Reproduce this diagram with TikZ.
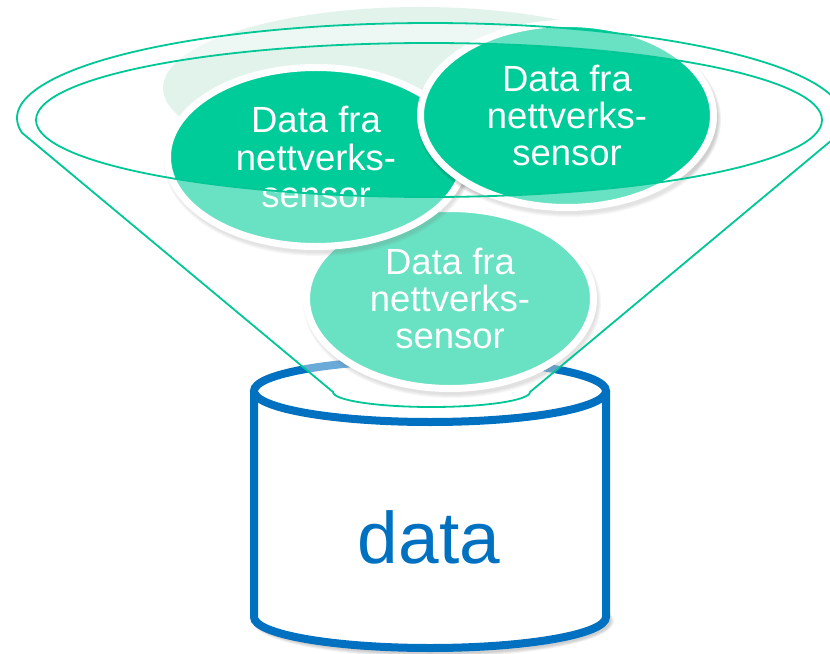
\documentclass[tikz,border=0pt]{standalone}
\usepackage{fontspec}
\setmainfont{Liberation Sans}
\usetikzlibrary{shapes.geometric}
\definecolor{mint}{HTML}{00CC99}
\definecolor{funnelGreen}{HTML}{00C795}
\definecolor{paleMint}{HTML}{E2F3EC}
\definecolor{dbBlue}{HTML}{0070C0}

% soft shadow under an ellipse: centre x, centre y, x radius, y radius
\newcommand\softshadow[4]{%
  \foreach \k in {0,1,2,3}
    \fill[black, opacity=0.05] (#1+2, #2+4) ellipse [x radius=#3+\k, y radius=#4+\k];}

\begin{document}
\begin{tikzpicture}[x=1bp, y=-1bp,
  bubble/.style={ellipse, fill=mint, draw=white, line width=7bp, inner sep=0pt,
    text=white, align=center, font=\fontsize{36.6}{37.4}\selectfont},
  funnelline/.style={draw=funnelGreen, line width=1.8bp},
  dbline/.style={draw=dbBlue, line width=8bp}]
\useasboundingbox (0,0) rectangle (830,654);

% faint bubble at the back
\fill[paleMint] (420,88) ellipse [x radius=257, y radius=81];

% database cylinder
\softshadow{431}{617}{178}{33}
\filldraw[fill=white, dbline] (254,391) -- (254,617)
  arc[start angle=180, end angle=0, x radius=176, y radius=31] -- (606,391);
\filldraw[fill=white, dbline] (430,391) ellipse [x radius=176, y radius=31];
\node[text=dbBlue, font=\fontsize{73.3}{80}\selectfont, anchor=base, inner sep=0pt]
  (dbLabel) at (429,563) {data};

% sensor bubbles
\softshadow{450}{298.5}{146}{92.5}
\node[bubble, minimum width=287bp, minimum height=180bp] (bubbleB) at (450,298.5)
  {Data fra\\nettverks-\\sensor};
\softshadow{316}{157}{151}{92}
\node[bubble, minimum width=297bp, minimum height=179bp] (bubbleL) at (316,157)
  {Data fra\\nettverks-\\sensor};
\softshadow{567}{115.5}{149}{94.5}
\node[bubble, minimum width=293bp, minimum height=184bp] (bubbleR) at (567,115.5)
  {Data fra\\nettverks-\\sensor};

% funnel: rim and cone, with the opening as a hole
\path[save path=\funnelP]
  plot[domain=171:374, samples=120] ({430+413*cos(\x)}, {118+95*sin(\x)})
  -- (530,392) arc[start angle=0, end angle=180, x radius=98.5, y radius=15]
  -- cycle
  (429,120) ellipse [x radius=393, y radius=77];
\fill[white, opacity=0.41, even odd rule, use path=\funnelP];
\draw[funnelline, use path=\funnelP];
\end{tikzpicture}
\end{document}
